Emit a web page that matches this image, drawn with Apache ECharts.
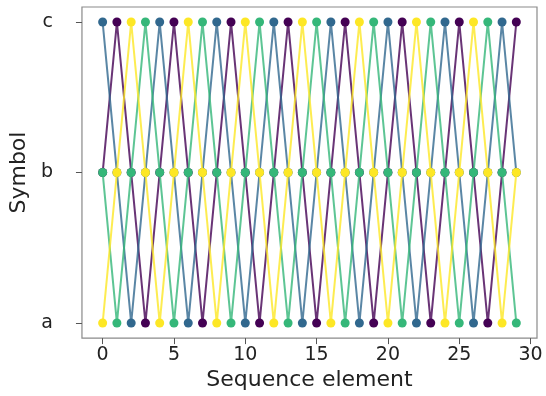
<!DOCTYPE html>
<html>
<head>
<meta charset="utf-8">
<script src="https://cdn.jsdelivr.net/npm/echarts@6/dist/echarts.min.js"></script>
<style>
  html, body { margin: 0; padding: 0; background: #ffffff; }
  #chart { width: 546px; height: 396px; }
</style>
</head>
<body>
<div id="chart"></div>
<script>
const symbols = ["a", "b", "c"];
const xTicks = [0, 5, 10, 15, 20, 25, 30];

// one sequence per colour, element 0..29
const seqPurple = ["b","c","b","a","b","c","b","a","b","c","b","a","b","c","b","a","b","c","b","a","b","c","b","a","b","c","b","a","b","c"];
const seqBlue   = ["c","b","a","b","c","b","a","b","c","b","a","b","c","b","a","b","c","b","a","b","c","b","a","b","c","b","a","b","c","b"];
const seqGreen  = ["b","a","b","c","b","a","b","c","b","a","b","c","b","a","b","c","b","a","b","c","b","a","b","c","b","a","b","c","b","a"];
const seqYellow = ["a","b","c","b","a","b","c","b","a","b","c","b","a","b","c","b","a","b","c","b","a","b","c","b","a","b","c","b","a","b"];

const sequences = [seqPurple, seqBlue, seqGreen, seqYellow];
const colors = ["#440154", "#31688e", "#35b779", "#fde725"];

const chart = echarts.init(document.getElementById("chart"));

const font = "DejaVu Sans";

const option = {
  animation: false,
  backgroundColor: "#ffffff",
  grid: {
    left: 81,
    right: 9,
    top: 7,
    bottom: 55,
    show: true,
    borderColor: "#8a8a8a",
    borderWidth: 1.2,
    backgroundColor: "transparent"
  },
  xAxis: {
    type: "value",
    min: -1.45,
    max: 30.45,
    name: "Sequence element",
    nameLocation: "middle",
    nameGap: 27,
    nameTextStyle: { fontFamily: font, fontSize: 22, color: "#222" },
    axisLine: { show: false, onZero: false },
    splitLine: { show: false },
    axisTick: {
      show: true,
      length: 6,
      customValues: xTicks,
      lineStyle: { color: "#555", width: 1 }
    },
    axisLabel: {
      customValues: xTicks,
      margin: 7,
      fontFamily: font,
      fontSize: 19,
      color: "#222"
    }
  },
  yAxis: {
    type: "value",
    min: -0.1,
    max: 2.1,
    name: "Symbol",
    nameLocation: "middle",
    nameGap: 40,
    nameTextStyle: { fontFamily: font, fontSize: 22, color: "#222" },
    axisLine: { show: false, onZero: false },
    splitLine: { show: false },
    axisTick: {
      show: true,
      length: 6,
      customValues: [0, 1, 2],
      lineStyle: { color: "#555", width: 1 }
    },
    axisLabel: {
      customValues: [0, 1, 2],
      margin: 29,
      fontFamily: font,
      fontSize: 19,
      color: "#222",
      formatter: function (v) {
        return symbols[Math.round(v)];
      }
    }
  },
  series: sequences.map(function (seq, i) {
    return {
      type: "line",
      data: seq.map(function (s, x) { return [x, symbols.indexOf(s)]; }),
      symbol: "circle",
      symbolSize: 9,
      showSymbol: true,
      lineStyle: { color: colors[i], width: 2, opacity: 0.8 },
      itemStyle: { color: colors[i], opacity: 1 },
      z: 2 + i
    };
  })
};

chart.setOption(option);
</script>
</body>
</html>
